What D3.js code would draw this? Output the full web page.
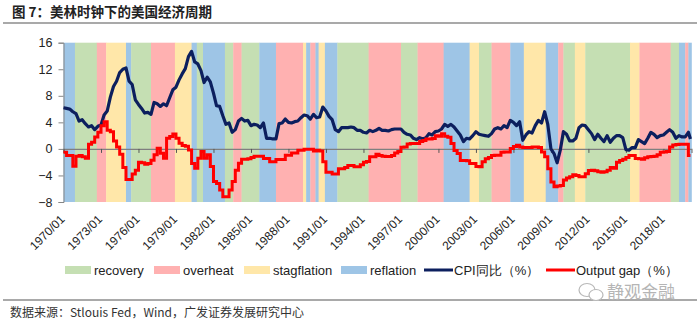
<!DOCTYPE html>
<html>
<head>
<meta charset="utf-8">
<script src="https://cdn.jsdelivr.net/npm/d3@7"></script>
<style>
  body { margin: 0; background: #fff; }
  svg text { font-family: "Liberation Sans", Arial, sans-serif; }
  .cjk { font-family: "Noto Sans CJK SC", "Liberation Sans", sans-serif; }
</style>
</head>
<body>
<div id="chart"></div>
<script>
// regime bands: start month of each segment and its phase, last entry closes the series
const bandStarts = [
  "1970/01", "1970/12", "1972/09", "1973/06", "1975/01", "1975/06", "1977/01", "1978/12",
  "1980/04", "1980/09", "1981/03", "1982/12", "1983/08", "1984/04", "1985/09", "1987/01",
  "1989/03", "1989/06", "1989/10", "1990/03", "1990/06", "1990/12", "1991/12", "1994/06",
  "1997/01", "1998/05", "2000/06", "2002/07", "2003/04", "2004/04", "2005/10", "2006/11",
  "2008/08", "2009/08", "2010/01", "2010/12", "2011/10", "2015/05", "2016/02", "2018/08",
  "2019/04", "2019/10", "2020/01"
];
const bandPhases = [
  "reflation", "recovery", "overheat", "stagflation", "reflation", "recovery", "overheat", "stagflation",
  "reflation", "recovery", "reflation", "recovery", "overheat", "recovery", "reflation", "overheat",
  "stagflation", "reflation", "overheat", "reflation", "stagflation", "reflation", "recovery", "overheat",
  "recovery", "overheat", "reflation", "stagflation", "recovery", "overheat", "reflation", "stagflation",
  "reflation", "overheat", "recovery", "stagflation", "recovery", "stagflation", "overheat", "recovery",
  "reflation", "overheat", "reflation"
];
const seriesEnd = "2020/04";

// CPI yoy (%), sampled every 3 months from 1970/01
const cpiStart = "1970/01";
const cpiValues = [
  6.2, 6.1, 6.0, 5.6,   5.3, 4.2, 4.4, 3.8,   3.3, 3.5, 2.9, 3.4,   3.6, 5.1, 5.7, 7.8,
  9.4, 10.2, 11.5, 12.0, 12.2, 10.2, 9.7, 7.4, 6.7, 6.1, 5.4, 5.5,  5.2, 7.0, 6.8, 6.4,
  6.8, 6.5, 7.7, 8.9,   9.3, 10.4, 11.3, 12.1, 13.9, 14.7, 13.1, 12.8, 11.8, 10.0, 10.8, 10.1,
  8.4, 6.5, 6.4, 5.0,   3.7, 3.9, 2.5, 2.9,   4.2, 4.6, 4.2, 4.3,   3.5, 3.7, 3.6, 3.2,
  3.9, 1.6, 1.6, 1.5,   1.5, 3.8, 3.9, 4.5,   4.0, 3.9, 4.1, 4.2,   4.7, 5.1, 5.0, 4.5,
  5.2, 4.7, 4.8, 6.3,   5.7, 4.9, 4.4, 2.9,   2.6, 3.2, 3.2, 3.2,   3.3, 3.2, 2.8, 2.8,
  2.5, 2.4, 2.8, 2.6,   2.8, 3.1, 2.8, 2.8,   2.7, 2.9, 3.0, 3.0,   3.0, 2.5, 2.2, 2.1,
  1.6, 1.4, 1.7, 1.5,   1.7, 2.3, 2.1, 2.6,   2.7, 3.0, 3.7, 3.4,   3.7, 3.3, 2.7, 2.1,
  1.1, 1.6, 1.5, 2.0,   2.6, 2.2, 2.1, 2.0,   1.9, 2.3, 3.0, 3.2,   3.0, 3.5, 3.2, 4.3,
  4.0, 3.5, 4.1, 1.3,   2.1, 2.6, 2.4, 3.5,   4.3, 3.9, 5.6, 3.7,   0.0, -0.7, -2.1, -0.2,
  2.6, 2.2, 1.2, 1.2,   1.6, 3.2, 3.6, 3.5,   2.9, 2.3, 1.4, 2.2,   1.6, 1.1, 2.0, 1.0,
  1.6, 2.0, 2.0, 1.7,   -0.1, -0.2, 0.2, 0.2, 1.4, 1.1, 0.8, 1.6,   2.5, 2.2, 1.7, 2.0,
  2.1, 2.5, 2.9, 2.5,   1.6, 2.0, 1.8, 1.8,   2.5
];
const cpiLast = { month: "2020/03", value: 1.5 };

// output gap (%), quarterly from 1970 Q1
const gapStart = "1970/01";
const gapValues = [
  -0.5, -1.0, -1.0, -2.6,  -1.1, -1.0, -1.2, -1.4,  0.7, 1.0, 1.8, 2.5,   3.5, 4.1, 2.8, 2.6,
  1.2, 0.3, -0.8, -2.8,    -4.6, -4.6, -3.8, -3.2,  -2.0, -2.1, -2.3, -2.2, -1.7, -0.9, 0.1, -0.65,
  -1.4, 1.6, 1.85, 2.25,   1.6, 0.85, 0.5, 0.4,     -0.15, -2.2, -2.9, -1.4, -0.4, -1.4, -0.9, -2.65,
  -4.9, -5.2, -6.2, -7.2,  -7.2, -6.2, -4.9, -3.2,  -2.15, -1.55, -1.55, -1.5, -1.3, -1.1, -1.1, -1.1,
  -1.45, -1.45, -1.95, -1.95, -1.6, -1.6, -1.6, -0.95, -0.95, -0.6, -0.6, -0.2, -0.2, -0.05, -0.05, -0.05,
  -0.3, -0.2, -0.3, -1.95, -3.5, -3.5, -3.8, -3.8,  -3.0, -3.0, -2.8, -2.5,  -2.5, -2.7, -2.7, -2.4,
  -2.0, -1.9, -1.2, -1.2,  -0.8, -1.0, -1.1, -1.15, -1.15, -1.0, -0.6, -0.4, 0.25, 0.3, 0.75, 0.8,
  0.8, 0.8, 1.1, 1.25,     1.5, 1.5, 1.55, 2.0,     1.9, 2.3, 1.9, 1.75,   0.8, -0.25, -0.7, -1.75,
  -1.75, -1.8, -2.2, -2.2, -2.65, -2.7, -1.95, -1.5, -1.3, -1.0, -0.95, -0.95, -0.5, -0.45, -0.45, 0.05,
  0.35, 0.55, 0.3, 0.2,    0.2, 0.2, 0.3, 0.3,      0.2, -0.45, -1.2, -3.0, -5.0, -5.7, -5.6, -5.5,
  -4.7, -4.4, -4.2, -3.9,  -4.0, -4.2, -4.2, -3.75, -3.25, -3.2, -3.3, -3.45, -3.5, -3.45, -3.2, -2.8,
  -2.9, -2.0, -1.75, -1.55, -1.3, -1.0, -1.0, -1.45, -1.5, -1.55, -1.35, -1.2, -1.15, -1.1, -0.9, -0.5,
  -0.45, -0.4, 0.3, 0.6,   0.65, 0.7, 0.7, 0.7,     -1.0
];

const yTicks = [-8, -4, 0, 4, 8, 12, 16];

const phaseColors = {
  recovery: "#c5dfb3",
  overheat: "#ffb1b1",
  stagflation: "#ffe7a9",
  reflation: "#9ec5e6"
};
const cpiColor = "#0c1f5e";
const gapColor = "#ff0000";

const svgWidth = 700;
const svgHeight = 324;
const plot = { left: 63.5, right: 691.5, top: 42.7, bottom: 202 };

const parseMonth = d3.timeParse("%Y/%m");

const svg = d3.select("#chart")
  .append("svg")
  .attr("width", svgWidth)
  .attr("height", svgHeight);

const xScale = d3.scaleTime()
  .domain([parseMonth(bandStarts[0]), parseMonth(seriesEnd)])
  .range([plot.left, plot.right]);

const yScale = d3.scaleLinear()
  .domain([-8, 16])
  .range([plot.bottom, plot.top]);

// title and rules
svg.append("text")
  .attr("class", "cjk")
  .attr("x", 12)
  .attr("y", 17)
  .attr("font-size", 13.5)
  .attr("font-weight", "bold")
  .attr("fill", "#222")
  .text("图 7：美林时钟下的美国经济周期");

svg.append("line")
  .attr("x1", 3).attr("x2", 697)
  .attr("y1", 23).attr("y2", 23)
  .attr("stroke", "#8c8c8c")
  .attr("stroke-width", 1.5);

svg.append("line")
  .attr("x1", 3).attr("x2", 697)
  .attr("y1", 300).attr("y2", 300)
  .attr("stroke", "#8c8c8c")
  .attr("stroke-width", 1.5);

// background phase bands
const bands = bandStarts.map((s, i) => ({
  start: parseMonth(s),
  end: parseMonth(i + 1 < bandStarts.length ? bandStarts[i + 1] : seriesEnd),
  phase: bandPhases[i]
}));

svg.append("g")
  .selectAll("rect")
  .data(bands)
  .enter()
  .append("rect")
  .attr("x", d => xScale(d.start))
  .attr("width", d => xScale(d.end) - xScale(d.start) + 0.3)
  .attr("y", yScale(16))
  .attr("height", yScale(-8) - yScale(16))
  .attr("fill", d => phaseColors[d.phase]);

// y axis
const yAxis = svg.append("g")
  .attr("transform", `translate(${plot.left}, 0)`)
  .call(d3.axisLeft(yScale).tickValues(yTicks).tickSize(5).tickPadding(6));
yAxis.select(".domain").attr("stroke", "#868686");
yAxis.selectAll(".tick line").attr("stroke", "#868686");
yAxis.selectAll(".tick text")
  .attr("font-size", 12.5)
  .attr("fill", "#222")
  .style("font-family", "'Liberation Sans', Arial, sans-serif");

// category axis across zero, labels kept below the plot
const xTicks = d3.range(1970, 2019, 3).map(y => new Date(y, 0, 1));
const xAxis = svg.append("g")
  .attr("transform", `translate(0, ${yScale(0)})`)
  .call(d3.axisBottom(xScale).tickValues(xTicks).tickSize(4).tickFormat(""));
xAxis.select(".domain").attr("stroke", "#7f7f7f").attr("stroke-width", 1.2);
xAxis.selectAll(".tick line").attr("stroke", "#555");

const fmtMonth = d3.timeFormat("%Y/%m");
svg.append("g")
  .selectAll("text")
  .data(xTicks)
  .enter()
  .append("text")
  .attr("transform", d => `translate(${xScale(d) + 2}, ${plot.bottom + 18}) rotate(-45)`)
  .attr("text-anchor", "end")
  .attr("font-size", 12)
  .attr("fill", "#222")
  .text(d => fmtMonth(d));

// series
const cpiData = cpiValues.map((v, i) => ({ date: d3.timeMonth.offset(parseMonth(cpiStart), i * 3), value: v }));
cpiData.push({ date: parseMonth(cpiLast.month), value: cpiLast.value });

const gapData = gapValues.map((v, i) => ({ date: d3.timeMonth.offset(parseMonth(gapStart), i * 3), value: v }));
const gapDrawn = gapData.concat([{ date: parseMonth(cpiLast.month), value: gapValues[gapValues.length - 1] }]);

svg.append("path")
  .datum(cpiData)
  .attr("fill", "none")
  .attr("stroke", cpiColor)
  .attr("stroke-width", 3.2)
  .attr("stroke-linejoin", "round")
  .attr("d", d3.line().x(d => xScale(d.date)).y(d => yScale(d.value)));

svg.append("path")
  .datum(gapDrawn)
  .attr("fill", "none")
  .attr("stroke", gapColor)
  .attr("stroke-width", 3)
  .attr("d", d3.line().curve(d3.curveStepAfter).x(d => xScale(d.date)).y(d => yScale(d.value)));

// legend
const legendItems = [
  { label: "recovery", kind: "rect", color: phaseColors.recovery, x: 65 },
  { label: "overheat", kind: "rect", color: phaseColors.overheat, x: 154 },
  { label: "stagflation", kind: "rect", color: phaseColors.stagflation, x: 244 },
  { label: "reflation", kind: "rect", color: phaseColors.reflation, x: 341 },
  { label: "CPI同比（%）", kind: "line", color: cpiColor, x: 424 },
  { label: "Output gap（%）", kind: "line", color: gapColor, x: 546 }
];
const legendY = 270;

const legend = svg.append("g")
  .selectAll("g")
  .data(legendItems)
  .enter()
  .append("g")
  .attr("transform", d => `translate(${d.x}, ${legendY})`);

legend.filter(d => d.kind === "rect")
  .append("rect")
  .attr("x", 0).attr("y", -4)
  .attr("width", 26).attr("height", 8)
  .attr("fill", d => d.color);

legend.filter(d => d.kind === "line")
  .append("line")
  .attr("x1", 0).attr("x2", 29)
  .attr("y1", 0).attr("y2", 0)
  .attr("stroke", d => d.color)
  .attr("stroke-width", 3);

legend.append("text")
  .attr("x", d => d.kind === "rect" ? 29 : 30)
  .attr("y", 4.5)
  .attr("font-size", 13)
  .attr("fill", "#222")
  .text(d => d.label);

// watermark
const mark = svg.append("g").attr("transform", "translate(578, 292)");
mark.append("ellipse")
  .attr("cx", 9).attr("cy", -2).attr("rx", 8).attr("ry", 6.5)
  .attr("fill", "none").attr("stroke", "#b8b8b8").attr("stroke-width", 1.2);
mark.append("ellipse")
  .attr("cx", 18).attr("cy", 3).attr("rx", 7).attr("ry", 5.5)
  .attr("fill", "#fff").attr("stroke", "#b8b8b8").attr("stroke-width", 1.2);
mark.append("text")
  .attr("class", "cjk")
  .attr("x", 29).attr("y", 6)
  .attr("font-size", 17)
  .attr("fill", "#b5b5b5")
  .text("静观金融");

// source note
svg.append("text")
  .attr("class", "cjk")
  .attr("x", 10)
  .attr("y", 317)
  .attr("font-size", 12)
  .attr("fill", "#333")
  .text("数据来源：Stlouis Fed，Wind，广发证券发展研究中心");
</script>
</body>
</html>
